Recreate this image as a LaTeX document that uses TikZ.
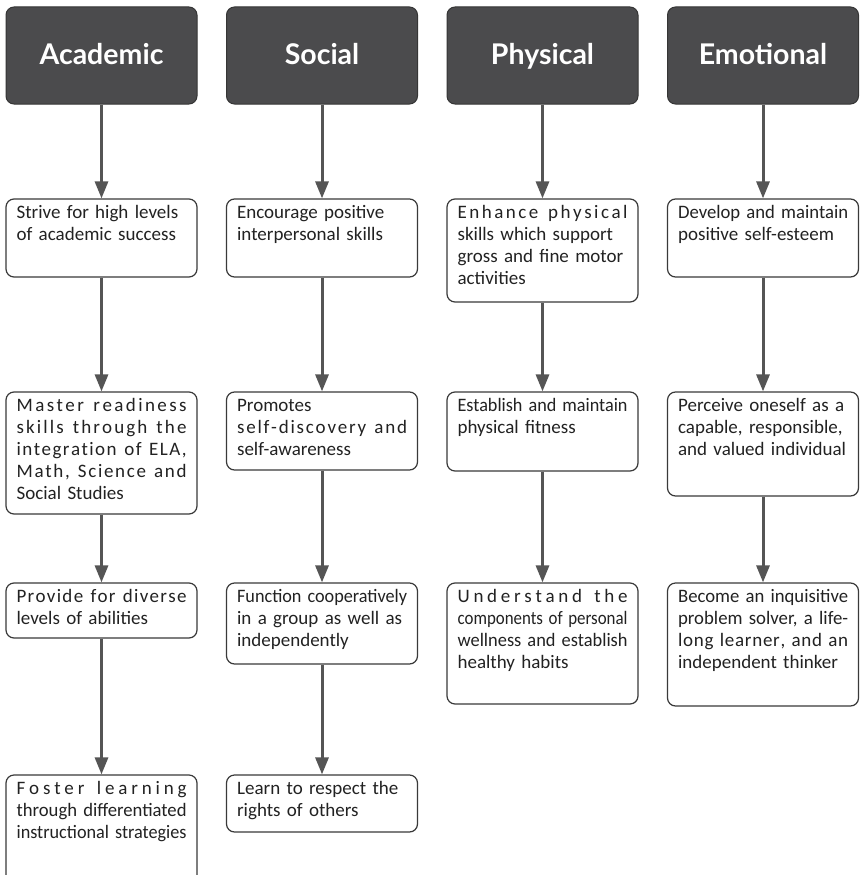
\documentclass[tikz,border=0pt]{standalone}
\usepackage{fontspec}
\usepackage{graphicx}
\setmainfont{Carlito}
\newfontfamily\headfont{Lato}
\usetikzlibrary{arrows.meta}
\definecolor{hdfill}{HTML}{4B4B4D}
\definecolor{hdline}{HTML}{353535}
\definecolor{arrcol}{HTML}{555555}
\definecolor{boxline}{HTML}{3A3A3A}
\definecolor{txtcol}{HTML}{222222}
\newlength\boxw \setlength\boxw{170pt}
\newsavebox\lnbox
% justified line (word spaces stretch)
\newcommand\jl[1]{\sbox\lnbox{#1}\ifdim\wd\lnbox>\boxw\resizebox{\boxw}{\height}{#1}\else\makebox[\boxw][s]{#1}\fi}
% last line (left aligned)
\newcommand\lastl[1]{\sbox\lnbox{#1}\ifdim\wd\lnbox>\boxw\resizebox{\boxw}{\height}{#1}\else\mbox{#1}\fi}
% distributed line (letters spread)
\ExplSyntaxOn
\seq_new:N \l_my_words_seq
\cs_new_protected:Npn \my_spread_word:n #1
  { \tl_map_inline:nn {#1} { ##1 \hskip 0pt plus 1fil\relax } \unskip }
\NewDocumentCommand \dist { m }
  {
    \seq_set_split:Nnn \l_my_words_seq { ~ } {#1}
    \makebox[\boxw][s]{
      \seq_map_inline:Nn \l_my_words_seq
        { \my_spread_word:n {##1} \hskip 0.25em plus 2fil\relax }
      \unskip
    }
  }
\ExplSyntaxOff
\tikzset{
  header/.style={draw=hdline, fill=hdfill, line width=1pt, rounded corners=8pt,
    minimum width=191pt, minimum height=97pt, inner sep=0pt,
    text height=20pt, text depth=3pt,
    text=white, font=\headfont\bfseries\fontsize{28.5}{32}\selectfont},
  goalbox/.style={draw=boxline, fill=white, line width=1.2pt, rounded corners=8pt,
    minimum width=191pt, inner sep=0pt},
  goaltext/.style={anchor=north west, inner sep=0pt, text width=\boxw, align=left,
    text=txtcol, font=\fontsize{19}{22}\selectfont},
  arr/.style={draw=arrcol, line width=3pt,
    -{Triangle[width=13pt,length=17pt]}, arrcol},
}
% #1 name, #2 center x, #3 top, #4 bottom
\newcommand\gbox[4]{%
  \node[goalbox, minimum height={#4-#3}] (#1) at (#2,{(#3+#4)/2}) {};}
\newcommand\gtext[2]{%
  \node[goaltext] (#1t) at ([xshift=11pt,yshift=-5pt]#1.north west) {\noindent\rule{0pt}{15pt}#2};}
\begin{document}
\begin{tikzpicture}[x=1pt,y=-1pt]
\clip (0,0) rectangle (859,875);
\useasboundingbox (0,0) rectangle (859,875);
\fill[white] (0,0) rectangle (859,875);

% headers
\node[header] (h1) at (101.5,55.5) {Academic};
\node[header] (h2) at (322,55.5) {Social};
\node[header] (h3) at (542.5,55.5) {Physical};
\node[header] (h4) at (763,55.5) {Emotional};

% column 1
\gbox{a1}{101.5}{199}{277}
\gbox{a2}{101.5}{392}{514}
\gbox{a3}{101.5}{583}{638}
\gbox{a4}{101.5}{775}{905}
% column 2
\gbox{b1}{322}{199}{277}
\gbox{b2}{322}{392}{470}
\gbox{b3}{322}{583}{664}
\gbox{b4}{322}{775}{832}
% column 3
\gbox{c1}{542.5}{199}{302}
\gbox{c2}{542.5}{392}{471}
\gbox{c3}{542.5}{583}{704}
% column 4
\gbox{d1}{763}{199}{277}
\gbox{d2}{763}{392}{496}
\gbox{d3}{763}{583}{706}

% texts
\gtext{a1}{\jl{Strive for high levels}\\\lastl{of academic success}}
\gtext{a2}{\dist{Master readiness}\\\dist{skills through the}\\\dist{integration of ELA,}\\\dist{Math, Science and}\\\lastl{Social Studies}}
\gtext{a3}{\dist{Provide for diverse}\\\lastl{levels of abilities}}
\gtext{a4}{\dist{Foster learning}\\\jl{through differentiated}\\\lastl{instructional strategies}}

\gtext{b1}{\jl{Encourage positive}\\\lastl{interpersonal skills}}
\gtext{b2}{\lastl{Promotes}\\\dist{self-discovery and}\\\lastl{self-awareness}}
\gtext{b3}{\jl{Function cooperatively}\\\jl{in a group as well as}\\\lastl{independently}}
\gtext{b4}{\jl{Learn to respect the}\\\lastl{rights of others}}

\gtext{c1}{\dist{Enhance physical}\\\jl{skills which support}\\\jl{gross and fine motor}\\\lastl{activities}}
\gtext{c2}{\jl{Establish and maintain}\\\lastl{physical fitness}}
\gtext{c3}{\dist{Understand the}\\\jl{components of personal}\\\jl{wellness and establish}\\\lastl{healthy habits}}

\gtext{d1}{\jl{Develop and maintain}\\\lastl{positive self-esteem}}
\gtext{d2}{\jl{Perceive oneself as a}\\\jl{capable, responsible,}\\\lastl{and valued individual}}
\gtext{d3}{\jl{Become an inquisitive}\\\jl{problem solver, a life-}\\\dist{long learner, and an}\\\lastl{independent thinker}}

% connectors
\foreach \u/\v in {h1/a1,a1/a2,a2/a3,a3/a4,h2/b1,b1/b2,b2/b3,b3/b4,h3/c1,c1/c2,c2/c3,h4/d1,d1/d2,d2/d3}
  \draw[arr] (\u.south) -- (\v.north);
\end{tikzpicture}
\end{document}
